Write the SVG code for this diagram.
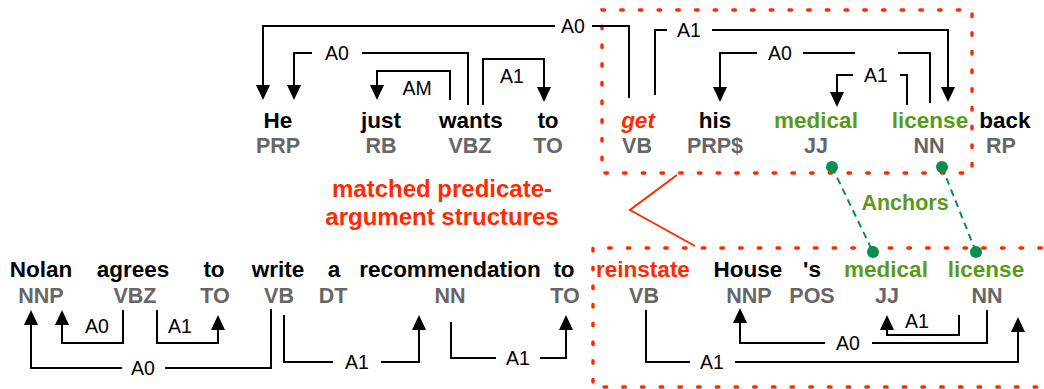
<svg xmlns="http://www.w3.org/2000/svg" width="1044" height="389" viewBox="0 0 1044 389">
<style>
  .w{font-family:"Liberation Sans",Arial,sans-serif;font-weight:bold;font-size:22.5px;text-anchor:middle;fill:#000}
  .t{font-family:"Liberation Sans",Arial,sans-serif;font-weight:bold;font-size:21.5px;text-anchor:middle;fill:#666}
  .red{fill:#ff2a00}
  .grn{fill:#5a9a18}
  .it{font-style:italic}
  .lbl{font-family:"Liberation Sans",Arial,sans-serif;font-size:19.5px;text-anchor:middle;fill:#000}
  .arc{fill:none;stroke:#000;stroke-width:2;marker-end:url(#ah)}
  .box{fill:none;stroke:#ff2a00;stroke-width:3.5;stroke-linecap:round;stroke-dasharray:2.5 16.2}
  .anc{stroke:#0a8f50;stroke-width:2;stroke-dasharray:7 5;fill:none}
  .dot{fill:#0a8f50}
  .note{font-family:"Liberation Sans",Arial,sans-serif;font-weight:bold;font-size:24px;text-anchor:middle;fill:#ff2a00}
</style>
<defs>
  <marker id="ah" markerUnits="userSpaceOnUse" markerWidth="16" markerHeight="14" refX="12" refY="7" orient="auto">
    <path d="M0,0 L15,7 L0,14 z" fill="#000"/>
  </marker>
</defs>
<rect width="1044" height="389" fill="#fff"/>

<!-- highlight boxes -->
<g id="boxes">
  <rect class="box" x="602" y="10" width="370" height="163"/>
  <path class="box" d="M1060,248 H593 V387 H1060"/>
  <path d="M677,175 L630,210 L695,246" fill="none" stroke="#ff2a00" stroke-width="2"/>
</g>

<g id="note">
  <text class="note" x="442" y="197">matched predicate-</text>
  <text class="note" x="442" y="225">argument structures</text>
</g>

<!-- anchors -->
<g id="anchors">
  <line class="anc" x1="832" y1="167" x2="873" y2="252"/>
  <line class="anc" x1="942" y1="167" x2="976" y2="252"/>
  <circle class="dot" cx="832" cy="167" r="6"/>
  <circle class="dot" cx="942" cy="167" r="6"/>
  <circle class="dot" cx="873" cy="252" r="6"/>
  <circle class="dot" cx="976" cy="252" r="6"/>
  <text x="905" y="210" font-family="Liberation Sans,Arial,sans-serif" font-weight="bold" font-size="21.5px" text-anchor="middle" fill="#5a9a18">Anchors</text>
</g>

<!-- top sentence nodes -->
<g id="t-He"><text class="w" x="278" y="128">He</text><text class="t" x="278" y="153">PRP</text></g>
<g id="t-just"><text class="w" x="381" y="128">just</text><text class="t" x="381" y="153">RB</text></g>
<g id="t-wants"><text class="w" x="471" y="128">wants</text><text class="t" x="470" y="153">VBZ</text></g>
<g id="t-to"><text class="w" x="548" y="128">to</text><text class="t" x="548" y="153">TO</text></g>
<g id="t-get"><text class="w red it" x="638" y="128">get</text><text class="t" x="637" y="153">VB</text></g>
<g id="t-his"><text class="w" x="715" y="128">his</text><text class="t" x="715" y="153">PRP$</text></g>
<g id="t-medical"><text class="w grn" x="816" y="128">medical</text><text class="t" x="816" y="153">JJ</text></g>
<g id="t-license"><text class="w grn" x="930" y="128">license</text><text class="t" x="929" y="153">NN</text></g>
<g id="t-back"><text class="w" x="1005" y="128">back</text><text class="t" x="1001" y="153">RP</text></g>

<!-- bottom sentence nodes -->
<g id="b-Nolan"><text class="w" x="41" y="277">Nolan</text><text class="t" x="41" y="303">NNP</text></g>
<g id="b-agrees"><text class="w" x="133" y="277">agrees</text><text class="t" x="135" y="303">VBZ</text></g>
<g id="b-to1"><text class="w" x="214" y="277">to</text><text class="t" x="215" y="303">TO</text></g>
<g id="b-write"><text class="w" x="278" y="277">write</text><text class="t" x="279" y="303">VB</text></g>
<g id="b-a"><text class="w" x="334" y="277">a</text><text class="t" x="333" y="303">DT</text></g>
<g id="b-recommendation"><text class="w" x="450" y="277">recommendation</text><text class="t" x="450" y="303">NN</text></g>
<g id="b-to2"><text class="w" x="564" y="277">to</text><text class="t" x="565" y="303">TO</text></g>
<g id="b-reinstate"><text class="w red" x="643" y="277">reinstate</text><text class="t" x="644" y="303">VB</text></g>
<g id="b-House"><text class="w" x="748" y="277">House</text><text class="t" x="749" y="303">NNP</text></g>
<g id="b-s"><text class="w" x="812" y="277">'s</text><text class="t" x="812" y="303">POS</text></g>
<g id="b-medical"><text class="w grn" x="886" y="277">medical</text><text class="t" x="887" y="303">JJ</text></g>
<g id="b-license"><text class="w grn" x="986" y="277">license</text><text class="t" x="987" y="303">NN</text></g>

<!-- connectors -->
<g id="connectors">
  <path class="arc" d="M629,98 V26 H592 M555,26 H263 V97"/>
  <path class="arc" d="M468,105 V53 H362 M312,53 H294 V97"/>
  <path class="arc" d="M450,100 V71 H377 V97"/>
  <path class="arc" d="M483,105 V59 H544 V99"/>
  <path class="arc" d="M655,95 V30 H667 M712,30 H948 V99"/>
  <path class="arc" d="M930,103 V53 H898 M855,53 H803 M757,53 H720 V99"/>
  <path class="arc" d="M907,105 V75 H900 M853,75 H837 V104"/>

  <path class="arc" d="M123,310 V343 H62 V313"/>
  <path class="arc" d="M157,310 V343 H218 V318"/>
  <path class="arc" d="M271,309 V368 H165 M122,368 H31 V313"/>
  <path class="arc" d="M284,315 V362 H333 M381,362 H419 V318"/>
  <path class="arc" d="M451,322 V358 H496 M540,358 H566 V318"/>
  <path class="arc" d="M646,310 V362 H690 M735,362 H1018 V320"/>
  <path class="arc" d="M987,310 V343 H872 M825,343 H740 V311"/>
  <path class="arc" d="M959,315 V335 H887 V318"/>

  <text class="lbl" x="573" y="33">A0</text>
  <text class="lbl" x="337" y="60">A0</text>
  <text class="lbl" x="417" y="95">AM</text>
  <text class="lbl" x="512" y="83">A1</text>
  <text class="lbl" x="689" y="37">A1</text>
  <text class="lbl" x="780" y="60">A0</text>
  <text class="lbl" x="876" y="82">A1</text>

  <text class="lbl" x="97" y="333">A0</text>
  <text class="lbl" x="180" y="333">A1</text>
  <text class="lbl" x="143" y="375">A0</text>
  <text class="lbl" x="357" y="369">A1</text>
  <text class="lbl" x="518" y="365">A1</text>
  <text class="lbl" x="712" y="369">A1</text>
  <text class="lbl" x="848" y="350">A0</text>
  <text class="lbl" x="917" y="328">A1</text>
</g>
</svg>
